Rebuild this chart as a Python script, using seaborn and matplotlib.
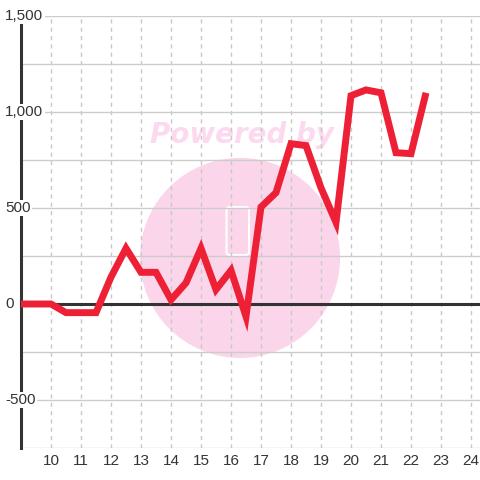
import matplotlib
matplotlib.use("Agg")
import matplotlib.pyplot as plt
import matplotlib.patches as mpatches
import seaborn as sns
import pandas as pd

# data
x_vals = [9, 10, 10.5, 11, 11.5, 12, 12.5, 13, 13.5, 14, 14.5, 15, 15.5, 16, 16.5,
          17, 17.5, 18, 18.5, 19, 19.5, 20, 20.5, 21, 21.5, 22, 22.5]
y_vals = [0, 0, -45, -45, -45, 140, 290, 165, 165, 22, 110, 290, 75, 175, -65,
          505, 580, 835, 825, 605, 425, 1085, 1115, 1100, 788, 783, 1100]
x_ticks = list(range(10, 25))
y_labels = [1500, 1000, 500, 0, -500]
y_grid = [-750, -500, -250, 0, 250, 500, 750, 1000, 1250, 1500]

df = pd.DataFrame({"x": x_vals, "y": y_vals})

sns.set_theme(style="white")
plt.rcParams["font.family"] = ["Liberation Sans", "DejaVu Sans"]

fig = plt.figure(figsize=(4.8, 4.8), dpi=100)
ax = fig.add_axes([21 / 480, 32 / 480, 459 / 480, 432 / 480])
ax.set_facecolor("white")
ax.set_axisbelow(True)

# watermark
ax.add_patch(mpatches.Ellipse((16.3, 240), 6.67, 1042, facecolor="#fbd5ea",
                              edgecolor="none", zorder=0.2))
ax.add_patch(mpatches.FancyBboxPatch((15.85, 255), 0.75, 250,
                                     boxstyle="round,pad=0,rounding_size=0.1",
                                     mutation_aspect=156, facecolor="none",
                                     edgecolor="white", lw=1.5, zorder=0.3))
ax.text(16.35, 880, "Powered by", fontsize=20, fontweight="bold", style="italic",
        color="#fcd9ee", ha="center", va="center", family="DejaVu Sans", zorder=0.3)

sns.lineplot(data=df, x="x", y="y", ax=ax, color="#ee2036", lw=5,
             solid_joinstyle="miter", solid_capstyle="butt", zorder=3)

ax.axhline(0, color="#333333", lw=2.2, zorder=2)

ax.set_xlim(9, 24.3)
ax.set_ylim(-750, 1500)
ax.set_xticks(x_ticks)
ax.set_yticks(y_grid)
ax.set_yticklabels([])
ax.tick_params(axis="both", length=0)
ax.tick_params(axis="x", labelsize=11, labelcolor="#333333", pad=4)
ax.grid(axis="y", color="#cccccc", lw=1, ls="-")
ax.grid(axis="x", color="#c8c8c8", lw=1, ls=(0, (3, 3)))
ax.set_xlabel("")
ax.set_ylabel("")

for s in ["top", "right", "bottom"]:
    ax.spines[s].set_visible(False)
ax.spines["left"].set_color("#333333")
ax.spines["left"].set_linewidth(2.2)

for v in y_labels:
    ax.text(-16 / 459, v, f"{v:,}", transform=ax.get_yaxis_transform(),
            ha="left", va="center", fontsize=11, color="#333333", clip_on=False,
            bbox=dict(facecolor="white", edgecolor="none", pad=1), zorder=5)

fig.savefig("out.png", dpi=100)
